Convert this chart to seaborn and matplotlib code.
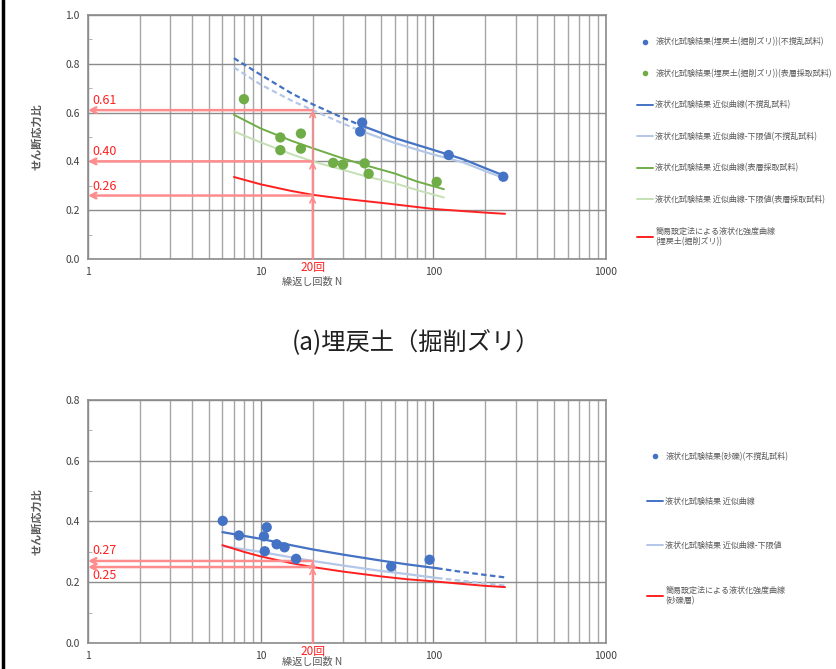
"""液状化強度曲線の再現"""

import matplotlib
matplotlib.use("Agg")
import matplotlib.pyplot as plt
from matplotlib.lines import Line2D
from matplotlib.ticker import FixedLocator, MultipleLocator, NullFormatter
import seaborn as sns

# ---- (a) 埋戻土（掘削ズリ） ----
a_pts_undist_n = [38.7, 37.7, 122.6, 254]
a_pts_undist_y = [0.559, 0.522, 0.426, 0.337]
a_pts_surf_n = [8.0, 13.0, 13.0, 17.1, 17.1, 26.3, 30.0, 40.0, 42.2, 104.5]
a_pts_surf_y = [0.655, 0.498, 0.446, 0.514, 0.452, 0.394, 0.387, 0.392, 0.349, 0.316]

a_fit_n = [7, 10, 15, 20, 30, 38, 60, 100, 150, 200, 260]
a_fit_undist = [0.823, 0.755, 0.680, 0.634, 0.578, 0.548, 0.495, 0.447, 0.408, 0.372, 0.340]
a_low_undist = [0.785, 0.715, 0.650, 0.610, 0.555, 0.525, 0.475, 0.428, 0.395, 0.360, 0.330]
a_dash_end = 38  # 破線区間の終わり(N)

a_surf_n = [7, 10, 15, 20, 30, 40, 60, 80, 115]
a_fit_surf = [0.591, 0.535, 0.485, 0.454, 0.412, 0.385, 0.350, 0.318, 0.286]
a_low_surf = [0.523, 0.478, 0.430, 0.400, 0.365, 0.340, 0.310, 0.283, 0.252]

a_simple_n = [7, 10, 15, 20, 30, 50, 100, 150, 200, 260]
a_simple = [0.336, 0.306, 0.279, 0.263, 0.247, 0.230, 0.205, 0.196, 0.190, 0.185]

a_read_values = [0.61, 0.40, 0.26]

# ---- 砂礫 ----
b_pts_n = [6.03, 7.49, 10.45, 10.84, 10.56, 12.37, 13.75, 16.04, 57.0, 95.1]
b_pts_y = [0.402, 0.354, 0.351, 0.381, 0.302, 0.325, 0.315, 0.277, 0.252, 0.274]

b_fit_n = [6, 10, 15, 20, 30, 50, 70, 105, 150, 200, 260]
b_fit = [0.365, 0.343, 0.322, 0.308, 0.291, 0.271, 0.259, 0.246, 0.233, 0.224, 0.216]
b_low = [0.319, 0.300, 0.282, 0.270, 0.255, 0.237, 0.227, 0.214, 0.204, 0.196, 0.189]
b_dash_start = 105  # 破線区間の始まり(N)

b_simple_n = [6, 8, 10, 15, 20, 30, 50, 70, 100, 150, 200, 260]
b_simple = [0.322, 0.300, 0.285, 0.263, 0.250, 0.235, 0.219, 0.210, 0.203, 0.194, 0.188, 0.184]

b_read_values = [0.27, 0.25]

ref_n = 20

labels_a = [
    "液状化試験結果(埋戻土(掘削ズリ))(不撹乱試料)",
    "液状化試験結果(埋戻土(掘削ズリ))(表層採取試料)",
    "液状化試験結果 近似曲線(不撹乱試料)",
    "液状化試験結果 近似曲線-下限値(不撹乱試料)",
    "液状化試験結果 近似曲線(表層採取試料)",
    "液状化試験結果 近似曲線-下限値(表層採取試料)",
    "簡易設定法による液状化強度曲線\n(埋戻土(掘削ズリ))",
]
labels_b = [
    "液状化試験結果(砂礫)(不撹乱試料)",
    "液状化試験結果 近似曲線",
    "液状化試験結果 近似曲線-下限値",
    "簡易設定法による液状化強度曲線\n(砂礫層)",
]

BLUE = "#4472C4"
LBLUE = "#B4C7E7"
GREEN = "#70AD47"
LGREEN = "#C5E0B4"
RED = "#FF2020"
PINK = "#FF8C8C"
GREY = "#595959"

sns.set_style("white")
plt.rcParams["font.family"] = ["Noto Sans CJK JP", "DejaVu Sans"]


def split(ns, ys, limit, before):
    """limit で曲線を二つに分ける"""
    if before:
        idx = [i for i, n in enumerate(ns) if n <= limit]
    else:
        idx = [i for i, n in enumerate(ns) if n >= limit]
    return [ns[i] for i in idx], [ys[i] for i in idx]


def setup_axes(ax, ymax, label_y):
    ax.set_xscale("log")
    ax.set_xlim(1, 1000)
    ax.set_ylim(0, ymax)
    ax.xaxis.set_major_locator(FixedLocator([1, 10, 100, 1000]))
    ax.xaxis.set_minor_locator(FixedLocator(
        [m * d for d in (1, 10, 100) for m in range(2, 10)]))
    ax.xaxis.set_minor_formatter(NullFormatter())
    ax.set_xticklabels(["1", "10", "100", "1000"])
    ax.yaxis.set_major_locator(MultipleLocator(0.2))
    ax.yaxis.set_minor_locator(MultipleLocator(0.1))
    ax.yaxis.set_major_formatter(lambda v, p: f"{v:.1f}")
    ax.grid(which="major", color="#8c8c8c", lw=1.0)
    ax.grid(which="minor", axis="x", color="#a6a6a6", lw=1.0)
    ax.tick_params(axis="both", which="major", length=0, labelsize=7.5,
                   labelcolor="#404040", pad=6)
    ax.tick_params(axis="y", which="minor", length=3, direction="in",
                   color="#a6a6a6", left=True)
    ax.tick_params(axis="x", which="minor", length=0)
    for s in ax.spines.values():
        s.set_color("#8c8c8c")
        s.set_linewidth(1.2)
    ax.set_xlabel("繰返し回数 N", fontsize=7.3, color=GREY)
    ax.xaxis.set_label_coords(0.432, label_y)
    ax.set_ylabel("せん断応力比", fontsize=8, color=GREY, fontweight="bold")
    ax.yaxis.set_label_coords(-0.086, 0.5)


def read_arrows(ax, values):
    for v in values:
        ax.annotate("", xy=(1.0, v), xytext=(ref_n, v),
                    arrowprops=dict(arrowstyle="->", color=PINK, lw=1.8,
                                    shrinkA=0, shrinkB=0), zorder=4)
        ax.annotate("", xy=(ref_n, v), xytext=(ref_n, 0),
                    arrowprops=dict(arrowstyle="->", color=PINK, lw=1.2,
                                    shrinkA=0, shrinkB=0), zorder=4)
    ax.text(ref_n, -0.006 * ax.get_ylim()[1] / 0.8, "20回", color=RED,
            fontsize=8.5, ha="center", va="top", clip_on=False)


fig = plt.figure(figsize=(8.37, 6.69), dpi=100)
ax1 = fig.add_axes([0.1051, 0.6129, 0.619, 0.3647])
ax2 = fig.add_axes([0.1051, 0.0389, 0.619, 0.3632])

# ---- 上段 ----
setup_axes(ax1, 1.0, -0.072)
read_arrows(ax1, a_read_values)
for v in a_read_values:
    ax1.text(1.06, v + 0.012, f"{v:.2f}", color=RED, fontsize=9, va="bottom")

n, y = split(a_fit_n, a_fit_undist, a_dash_end, True)
sns.lineplot(x=n, y=y, ax=ax1, color=BLUE, lw=1.6, ls=(0, (2.5, 1.5)))
n, y = split(a_fit_n, a_low_undist, a_dash_end, True)
sns.lineplot(x=n, y=y, ax=ax1, color=LBLUE, lw=1.6, ls=(0, (2.5, 1.5)))
n, y = split(a_fit_n, a_fit_undist, a_dash_end, False)
sns.lineplot(x=n, y=y, ax=ax1, color=BLUE, lw=1.6)
n, y = split(a_fit_n, a_low_undist, a_dash_end, False)
sns.lineplot(x=n, y=y, ax=ax1, color=LBLUE, lw=1.6)
sns.lineplot(x=a_surf_n, y=a_fit_surf, ax=ax1, color=GREEN, lw=1.4)
sns.lineplot(x=a_surf_n, y=a_low_surf, ax=ax1, color=LGREEN, lw=1.4)
sns.lineplot(x=a_simple_n, y=a_simple, ax=ax1, color=RED, lw=1.4)
sns.scatterplot(x=a_pts_undist_n, y=a_pts_undist_y, ax=ax1, color=BLUE,
                s=55, edgecolor="none", zorder=5)
sns.scatterplot(x=a_pts_surf_n, y=a_pts_surf_y, ax=ax1, color=GREEN,
                s=55, edgecolor="none", zorder=5)

handles_a = [
    Line2D([], [], ls="none", marker="o", ms=3, color=BLUE),
    Line2D([], [], ls="none", marker="o", ms=3, color=GREEN),
    Line2D([], [], color=BLUE, lw=1.4),
    Line2D([], [], color=LBLUE, lw=1.4),
    Line2D([], [], color=GREEN, lw=1.4),
    Line2D([], [], color=LGREEN, lw=1.4),
    Line2D([], [], color=RED, lw=1.4),
]
fig.legend(handles_a, labels_a, loc="upper left",
           bbox_to_anchor=(0.752, 0.955), frameon=False, fontsize=5.8,
           labelspacing=2.78, handlelength=2.0, handletextpad=0.3,
           labelcolor=GREY)

fig.text(0.497, 0.487, "(a)埋戻土（掘削ズリ）", fontsize=17.5, ha="center",
         va="center", color="#202020")

# ---- 下段 ----
setup_axes(ax2, 0.8, -0.058)
read_arrows(ax2, b_read_values)
ax2.text(1.06, b_read_values[0] + 0.012, f"{b_read_values[0]:.2f}", color=RED,
         fontsize=9, va="bottom")
ax2.text(1.06, b_read_values[1] - 0.008, f"{b_read_values[1]:.2f}", color=RED,
         fontsize=9, va="top")

n, y = split(b_fit_n, b_fit, b_dash_start, True)
sns.lineplot(x=n, y=y, ax=ax2, color=BLUE, lw=1.6)
n, y = split(b_fit_n, b_low, b_dash_start, True)
sns.lineplot(x=n, y=y, ax=ax2, color=LBLUE, lw=1.6)
n, y = split(b_fit_n, b_fit, b_dash_start, False)
sns.lineplot(x=n, y=y, ax=ax2, color=BLUE, lw=1.6, ls=(0, (2.5, 1.5)))
n, y = split(b_fit_n, b_low, b_dash_start, False)
sns.lineplot(x=n, y=y, ax=ax2, color=LBLUE, lw=1.6, ls=(0, (2.5, 1.5)))
sns.lineplot(x=b_simple_n, y=b_simple, ax=ax2, color=RED, lw=1.4)
sns.scatterplot(x=b_pts_n, y=b_pts_y, ax=ax2, color=BLUE, s=55,
                edgecolor="none", zorder=5)

handles_b = [
    Line2D([], [], ls="none", marker="o", ms=3, color=BLUE),
    Line2D([], [], color=BLUE, lw=1.4),
    Line2D([], [], color=LBLUE, lw=1.4),
    Line2D([], [], color=RED, lw=1.4),
]
fig.legend(handles_b, labels_b, loc="upper left",
           bbox_to_anchor=(0.764, 0.335), frameon=False, fontsize=5.8,
           labelspacing=4.4, handlelength=2.0, handletextpad=0.3,
           labelcolor=GREY)

# 左端の枠線
fig.add_artist(Line2D([0.003, 0.003], [0, 1], color="black", lw=2.5,
                      transform=fig.transFigure))

fig.savefig("out.png", dpi=100)
